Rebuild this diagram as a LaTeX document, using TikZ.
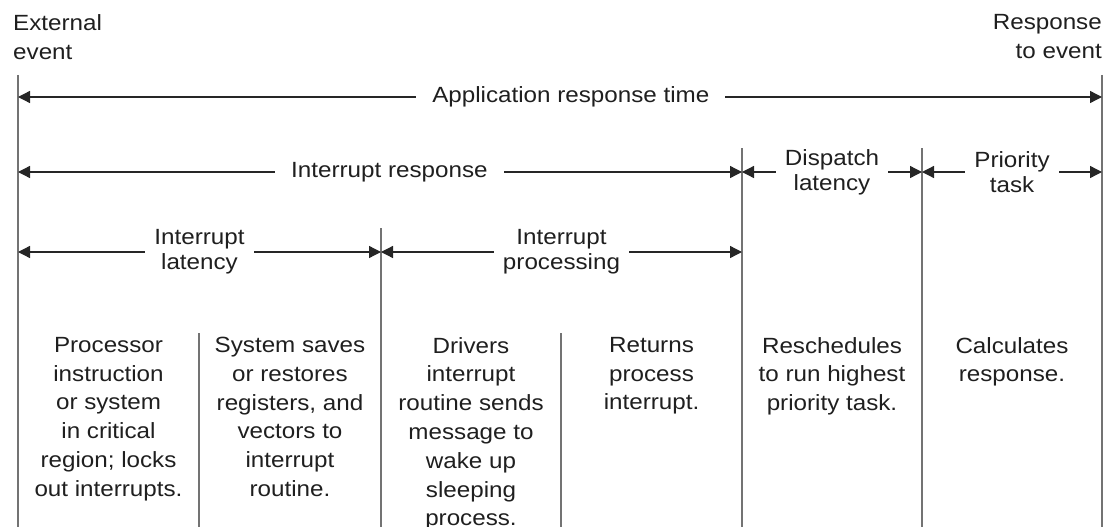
\documentclass[tikz,border=0pt]{standalone}
\usepackage{fontspec}
\setmainfont{Liberation Sans}[FakeStretch=1.1]
\usetikzlibrary{arrows.meta}

\begin{document}
\begin{tikzpicture}[x=1pt,y=-1pt,
		rule/.style={draw=black!55, line width=1.8pt},
		span/.style={draw=black!85, line width=1.3pt, {Triangle[length=12pt,width=12pt]}-{Triangle[length=12pt,width=12pt]}},
		spanlbl/.style={fill=white, text=black!88, inner ysep=0pt, inner xsep=16pt, font=\fontsize{22}{25}\selectfont, align=center},
		stage/.style={anchor=north, inner sep=0pt, text=black!88, font=\fontsize{22}{28.8}\selectfont, align=center}]
		\useasboundingbox (0,0) rectangle (1114,527);

		% time marks
		\foreach \x/\t in {18/75, 199/333, 381/228, 561/333, 742/148, 922/148, 1102/75}
			\draw[rule] (\x,\t) -- (\x,527);

		\node (ext) [anchor=north west, inner sep=0pt, align=left, text=black!88, font=\fontsize{22}{29}\selectfont] at (13,14) {External\\event};
		\node (resp) [anchor=north east, inner sep=0pt, align=right, text=black!88, font=\fontsize{22}{29}\selectfont] at (1102,14) {Response\\to event};

		\coordinate (a1) at (18,97);
		\coordinate (a2) at (1102,97);
		\coordinate (b1) at (18,172);
		\coordinate (b2) at (742,172);
		\coordinate (b3) at (922,172);
		\coordinate (b4) at (1102,172);
		\coordinate (c1) at (18,252);
		\coordinate (c2) at (381,252);
		\coordinate (c3) at (742,252);

		\draw[span] (a1) -- node[spanlbl, pos=.51] (app) {Application response time} (a2);
		\draw[span] (b1) -- node[spanlbl, pos=.513] (irsp) {Interrupt response} (b2);
		\draw[span] (b2) -- node[spanlbl, inner xsep=9pt] (disp) {Dispatch\\latency} (b3);
		\draw[span] (b3) -- node[spanlbl, inner xsep=9pt] (prio) {Priority\\task} (b4);
		\draw[span] (c1) -- node[spanlbl, inner xsep=9pt] (ilat) {Interrupt\\latency} (c2);
		\draw[span] (c2) -- node[spanlbl, inner xsep=9pt] (iproc) {Interrupt\\processing} (c3);

		\node (s1) [stage] at (108.5,337) {Processor\\instruction\\or system\\in critical\\region; locks\\out interrupts.};
		\node (s2) [stage] at (290,337) {System saves\\or restores\\registers, and\\vectors to\\interrupt\\routine.};
		\node (s3) [stage] at (471,337) {Drivers\\interrupt\\routine sends\\message to\\wake up\\sleeping\\process.};
		\node (s4) [stage] at (651.5,337) {Returns\\process\\interrupt.};
		\node (s5) [stage] at (832,337) {Reschedules\\to run highest\\priority task.};
		\node (s6) [stage] at (1012,337) {Calculates\\response.};
	\end{tikzpicture}
\end{document}
